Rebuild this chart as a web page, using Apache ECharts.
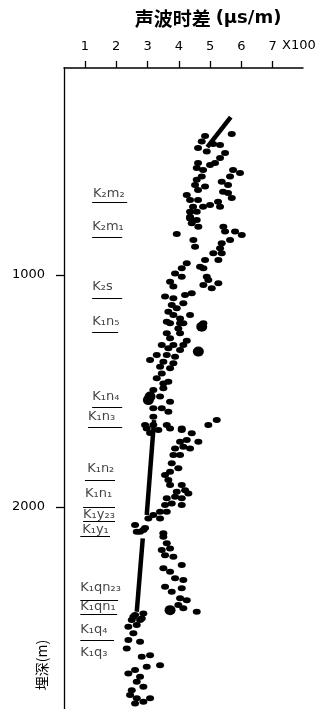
<!DOCTYPE html>
<html>
<head>
<meta charset="utf-8">
<script src="https://cdn.jsdelivr.net/npm/echarts@6/dist/echarts.min.js"></script>
<style>
html,body{margin:0;padding:0;background:#fff;}
#chart{width:323px;height:709px;}
</style>
</head>
<body>
<div id="chart"></div>
<script>
// x: 声波时差 (x100 μs/m), y: 埋深 (m)
var xTicks = [1, 2, 3, 4, 5, 6, 7];
var yTicks = [1000, 2000];

// measured points [声波时差 (x100 μs/m), 埋深 (m)]
var pointsUpper = [
  [5.692,392],[4.839,401],[4.733,425],[4.615,453],[5.095,435],[5.318,440],[4.893,468],[5.478,474],
  [5.318,496],[5.158,517],[4.999,526],[4.615,517],[4.573,539],[4.775,547],[4.733,576],[5.734,547],
  [5.957,560],[5.638,576],[5.372,598],[5.574,612],[4.573,590],[4.519,612],[4.839,619],[4.615,634],
  [5.414,641],[5.574,647],[5.692,668],[4.254,655],[4.359,677],[4.615,677],[4.455,706],[4.775,706],
  [4.999,698],[5.254,684],[5.318,706],[4.359,727],[4.573,727],[4.359,749],
  [4.359,756],[4.573,763],[4.414,777],[4.625,792],[3.934,823],[5.424,792],[5.478,813],[5.798,813],
  [6.012,828],[5.638,849],[5.372,863],[4.465,849],[4.519,878],[5.318,885],[5.104,906],[5.372,906],
  [5.264,935],[4.839,935],[4.679,964],[4.785,971],[4.254,949],[4.094,971],[3.880,993],[4.094,1007],
  [4.893,1007],[4.944,1021],[3.720,1029],[3.826,1050],[4.785,1043],[5.053,1057],[5.264,1036]
];
var pointsMiddle = [
  [4.414,1079],[4.199,1086],[3.560,1093],[3.826,1100],[4.145,1122],[3.774,1129],[3.934,1143],[3.666,1158],
  [4.359,1172],[3.826,1172],[4.040,1187],[3.615,1201],[4.145,1208],[4.785,1208],
  [3.720,1208],[4.040,1208],[3.985,1230],[3.615,1251],[4.040,1251],[3.720,1273],[4.254,1283],
  [3.455,1302],[3.826,1302],[4.145,1302],[3.666,1316],[4.040,1323],[3.295,1345],[3.615,1345],
  [3.880,1352],[3.081,1366],[3.506,1374],[3.826,1380],[3.401,1395],[3.720,1402],[3.455,1424],
  [3.295,1445],[3.666,1460],[3.506,1467],[3.186,1496],[3.506,1488],[3.081,1524],[3.401,1524],
  [3.720,1546],[3.186,1574],[3.455,1574],[3.666,1589],[3.186,1611],[2.921,1646],[3.186,1646],
  [3.615,1646],[4.094,1661],[4.944,1646],[5.213,1625],[3.081,1681]
];
var pointsLower = [
  [2.975,1661],[3.346,1668],[3.720,1661],[4.094,1668],[4.414,1682],[4.040,1718],[4.254,1711],[4.625,1718],
  [3.880,1747],[4.145,1740],[4.359,1747],[3.826,1776],[4.040,1776],[3.774,1811],[3.985,1833],[3.720,1848],
  [3.560,1862],[3.666,1883],[3.720,1905],[4.094,1905],[4.199,1927],[4.305,1941],[3.934,1934],[3.615,1962],
  [3.880,1955],[4.094,1962],[3.560,1991],[3.774,1984],[4.094,1991],[3.401,2020],[3.615,2020],[3.186,2034],
  [3.401,2049],[3.027,2049],[2.602,2077],[2.656,2106],[2.867,2099],[3.506,2113],[2.921,2090],
  [2.761,2106],[3.506,2128],[3.615,2156],[3.455,2185],[3.720,2178],[3.560,2207],[3.826,2214],[4.094,2250],
  [3.506,2264],[3.720,2279],[3.880,2307],[4.145,2314],[3.560,2343],[3.774,2365],[4.094,2350],[4.040,2393],
  [4.254,2401],[3.985,2422],[4.145,2436],[4.573,2451],[2.602,2465],[2.867,2458],[2.496,2487],[2.761,2487],
  [2.547,2473],[2.816,2480],[2.387,2516],[2.656,2508],[2.547,2544],[2.387,2573],[2.761,2580],[2.336,2609],
  [2.816,2645],[3.081,2638],[3.401,2681],[2.975,2688],[2.602,2702],[2.387,2717],[2.761,2731],[2.656,2753],
  [2.867,2774],[2.496,2789],[2.442,2810],[2.656,2824],[2.867,2839],[3.081,2824],[2.602,2846]
];
var pointsLarge = [[4.733,1223],[4.625,1330],[3.027,1539],[3.720,2444],[3.081,1524]];

// trend (compaction) lines
var trendUpper = [[5.66,320],[4.91,449]];
var trendMiddle = [[3.21,1625],[2.975,2034]];
var trendLower = [[2.848,2135],[2.656,2451]];

// formation labels
var formationNames  = ['K₂m₂','K₂m₁','K₂s','K₁n₅','K₁n₄','K₁n₃','K₁n₂','K₁n₁','K₁y₂₃','K₁y₁','K₁qn₂₃','K₁qn₁','K₁q₄','K₁q₃'];
var formationX      = [1.26,1.23,1.23,1.23,1.23,1.10,1.07,1.00,0.94,0.91,0.85,0.85,0.85,0.85];
var formationDepths = [651,793,1052,1202,1526,1612,1836,1940,2034,2099,2345,2431,2530,2629];

// formation boundary underlines
var boundaryDepths = [685,836,1099,1246,1569,1655,1883,2000,2060,2125,2401,2461,2573];
var boundaryStart  = [1.23,1.23,1.23,1.23,1.23,1.10,1.00,0.94,0.94,0.85,0.85,0.85,0.85];
var boundaryEnd    = [2.35,2.19,2.19,2.06,2.19,2.19,1.96,1.96,1.96,1.80,2.06,2.03,1.93];

var chart = echarts.init(document.getElementById('chart'), null, {renderer:'canvas'});

var labelData = formationNames.map(function(n,i){ return {name:n, value:[formationX[i], formationDepths[i]]}; });
var lineData = boundaryDepths.map(function(d,i){ return {coords:[[boundaryStart[i], d],[boundaryEnd[i], d]]}; });

function dots(data, size){
  return {type:'scatter', data:data, symbol:'circle', symbolSize:size, itemStyle:{color:'#000', opacity:1}, silent:true, z:3};
}
function trend(data){
  return {type:'line', data:data, symbol:'none', lineStyle:{color:'#000', width:4.5}, silent:true, z:4};
}

chart.setOption({
  animation:false,
  backgroundColor:'#fff',
  title:{
    text:'{c|声波时差} {l|(μs/m)}',
    left:203, top:4, textAlign:'center',
    textStyle:{rich:{
      c:{fontFamily:'Noto Sans CJK SC', fontSize:19, fontWeight:'bold', color:'#000'},
      l:{fontFamily:'DejaVu Sans', fontSize:18, fontWeight:'bold', color:'#000'}
    }}
  },
  grid:{left:64, right:20, top:68, bottom:0, containLabel:false},
  xAxis:{
    type:'value', position:'top', min:0.33, max:7.97,
    splitLine:{show:false},
    axisLine:{show:true, onZero:false, lineStyle:{color:'#000', width:1.5}},
    axisTick:{show:true, customValues:xTicks, length:7, lineStyle:{color:'#000', width:1.3}},
    axisLabel:{customValues:xTicks, margin:15, fontSize:13, color:'#000', fontFamily:'DejaVu Sans'}
  },
  yAxis:{
    type:'value', inverse:true, min:108, max:2870,
    splitLine:{show:false},
    axisLine:{show:true, onZero:false, lineStyle:{color:'#000', width:1.3}},
    axisTick:{show:true, customValues:yTicks, length:8, lineStyle:{color:'#000', width:1.3}},
    axisLabel:{customValues:yTicks, margin:19, fontSize:13, color:'#000', fontFamily:'DejaVu Sans',
               formatter:function(v){ return String(v); }}
  },
  graphic:[{
    type:'text', x:42, y:665, rotation:Math.PI/2,
    style:{text:'埋深(m)', fill:'#000', font:'14px "Noto Sans CJK SC"', textAlign:'center', textVerticalAlign:'middle'}
  },{
    type:'text', x:282, y:46,
    style:{text:'X100', fill:'#000', font:'13px "DejaVu Sans"', textAlign:'left', textVerticalAlign:'middle'}
  }],
  series:[
    dots(pointsUpper,[8,6]),
    dots(pointsMiddle,[8,6]),
    dots(pointsLower,[8,6]),
    dots(pointsLarge,[11,10]),
    trend(trendUpper),
    trend(trendMiddle),
    trend(trendLower),
    {type:'scatter', data:labelData, symbolSize:0, silent:true, z:5,
     label:{show:true, position:'right', distance:0, formatter:'{b}', color:'#111', fontSize:13, fontFamily:'DejaVu Sans'}},
    {type:'lines', coordinateSystem:'cartesian2d', data:lineData, silent:true, z:5,
     lineStyle:{color:'#000', width:1.2, opacity:1}}
  ]
});
</script>
</body>
</html>
